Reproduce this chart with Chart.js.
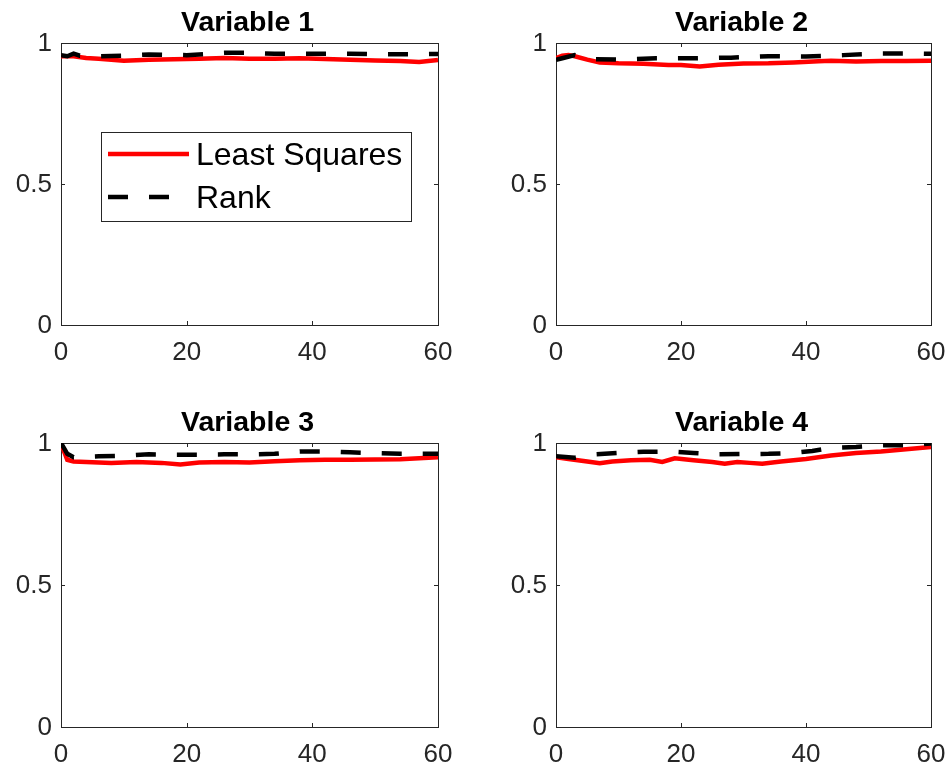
<!DOCTYPE html>
<html>
<head>
<meta charset="utf-8">
<script src="https://cdn.jsdelivr.net/npm/chart.js@4.4.1/dist/chart.umd.min.js"></script>
<style>
    html, body { margin: 0; padding: 0; background: #fff; }
    #wrap { position: relative; width: 950px; height: 774px; overflow: hidden; }
    canvas { position: absolute; }
</style>
</head>
<body>
<div id="wrap"></div>
<script>
// values
const titles = ['Variable 1', 'Variable 2', 'Variable 3', 'Variable 4'];
const seriesNames = ['Least Squares', 'Rank'];
const xTicks = [0, 20, 40, 60];
const yTicks = [0, 0.5, 1];

const lsX1 = [0, 2, 4, 6, 10, 14, 18, 22, 26, 30, 34, 38, 42, 46, 50, 54, 57, 60];
const lsY1 = [0.953, 0.953, 0.947, 0.944, 0.937, 0.941, 0.942, 0.944, 0.947, 0.944, 0.944, 0.946, 0.943, 0.941, 0.938, 0.936, 0.933, 0.94];
const rkX1 = [0, 1, 2, 3, 6, 10, 14, 20, 26, 30, 34, 40, 46, 52, 56, 60];
const rkY1 = [0.957, 0.953, 0.962, 0.955, 0.953, 0.955, 0.959, 0.957, 0.965, 0.965, 0.962, 0.962, 0.962, 0.96, 0.96, 0.961];

const lsX2 = [0, 1, 2, 3, 5, 7, 10, 14, 18, 20, 23, 26, 30, 34, 38, 42, 44, 48, 52, 56, 60];
const lsY2 = [0.946, 0.955, 0.957, 0.953, 0.941, 0.931, 0.928, 0.926, 0.922, 0.922, 0.917, 0.923, 0.927, 0.928, 0.931, 0.935, 0.937, 0.934, 0.936, 0.936, 0.937];
const rkX2 = [0, 1, 3, 6, 10, 16, 22, 28, 34, 40, 46, 52, 56, 60];
const rkY2 = [0.94, 0.946, 0.957, 0.943, 0.941, 0.946, 0.946, 0.948, 0.953, 0.952, 0.957, 0.963, 0.963, 0.962];

const lsX3 = [0, 1, 2, 4, 8, 12, 16, 19, 22, 26, 30, 34, 38, 42, 46, 50, 54, 57, 60];
const lsY3 = [0.998, 0.941, 0.935, 0.933, 0.93, 0.933, 0.93, 0.924, 0.931, 0.933, 0.931, 0.936, 0.939, 0.941, 0.941, 0.942, 0.943, 0.946, 0.95];
const rkX3 = [0, 1, 2, 6, 10, 14, 18, 22, 26, 30, 34, 38, 42, 46, 50, 54, 60];
const rkY3 = [1.0, 0.962, 0.95, 0.953, 0.955, 0.96, 0.959, 0.959, 0.96, 0.96, 0.962, 0.97, 0.97, 0.967, 0.964, 0.962, 0.962];

const lsX4 = [0, 2, 5, 7, 9, 12, 15, 17, 19, 22, 25, 27, 29, 31, 33, 36, 40, 44, 48, 52, 56, 60];
const lsY4 = [0.95, 0.944, 0.935, 0.929, 0.935, 0.939, 0.941, 0.933, 0.946, 0.939, 0.933, 0.927, 0.933, 0.93, 0.927, 0.935, 0.944, 0.956, 0.965, 0.97, 0.978, 0.986];
const rkX4 = [0, 3, 6, 10, 14, 18, 22, 26, 30, 34, 38, 41, 44, 48, 52, 56, 60];
const rkY4 = [0.953, 0.948, 0.96, 0.965, 0.969, 0.97, 0.965, 0.96, 0.961, 0.962, 0.965, 0.972, 0.983, 0.986, 0.992, 0.992, 0.998];

const FONT = '"Liberation Sans", Arial, Helvetica, sans-serif';
const AXIS_COLOR = '#262626';

// canvas cell and plot box, page coordinates
const panels = [
    {cell: [0, 0, 475, 395], area: [61, 43, 438, 325], ls: [lsX1, lsY1], rk: [rkX1, rkY1], legend: true},
    {cell: [475, 0, 950, 395], area: [556, 43, 931, 325], ls: [lsX2, lsY2], rk: [rkX2, rkY2]},
    {cell: [0, 395, 475, 774], area: [61, 443, 438, 727], ls: [lsX3, lsY3], rk: [rkX3, rkY3]},
    {cell: [475, 395, 950, 774], area: [556, 443, 931, 727], ls: [lsX4, lsY4], rk: [rkX4, rkY4]}
];

function zip(xs, ys) {
    return xs.map((x, i) => ({x, y: ys[i]}));
}

// box round the axes with small inward ticks, MATLAB style
const boxPlugin = {
    id: 'box',
    beforeDatasetsDraw(chart) {
        const {ctx, chartArea: a, scales} = chart;
        const tl = 4;
        ctx.save();
        ctx.strokeStyle = AXIS_COLOR;
        ctx.lineWidth = 1;
        ctx.strokeRect(a.left + 0.5, a.top + 0.5, a.right - a.left, a.bottom - a.top);
        ctx.beginPath();
        for (const v of xTicks) {
            const px = Math.round(scales.x.getPixelForValue(v)) + 0.5;
            ctx.moveTo(px, a.bottom);
            ctx.lineTo(px, a.bottom - tl);
            ctx.moveTo(px, a.top);
            ctx.lineTo(px, a.top + tl);
        }
        for (const v of yTicks) {
            const py = Math.round(scales.y.getPixelForValue(v)) + 0.5;
            ctx.moveTo(a.left, py);
            ctx.lineTo(a.left + tl, py);
            ctx.moveTo(a.right, py);
            ctx.lineTo(a.right - tl, py);
        }
        ctx.stroke();
        ctx.restore();
    }
};

const titlePlugin = {
    id: 'panelTitle',
    afterDraw(chart, args, opts) {
        const {ctx, chartArea: a} = chart;
        ctx.save();
        ctx.font = `bold 28.5px ${FONT}`;
        ctx.fillStyle = '#000';
        ctx.textAlign = 'center';
        ctx.textBaseline = 'alphabetic';
        ctx.fillText(opts.text, (a.left + a.right) / 2 - 2, a.top - 12);
        ctx.restore();
    }
};

const legendPlugin = {
    id: 'boxLegend',
    afterDraw(chart, args, opts) {
        if (!opts.show) {
            return;
        }
        const {ctx, chartArea: a} = chart;
        const x = a.left + 40, y = a.top + 89, w = 310, h = 89;
        ctx.save();
        ctx.fillStyle = '#fff';
        ctx.fillRect(x, y, w, h);
        ctx.strokeStyle = AXIS_COLOR;
        ctx.lineWidth = 1;
        ctx.strokeRect(x + 0.5, y + 0.5, w, h);

        const rows = [y + 22, y + 65];
        chart.data.datasets.forEach((ds, i) => {
            const ly = rows[i];
            ctx.beginPath();
            ctx.strokeStyle = ds.borderColor;
            ctx.lineWidth = ds.borderWidth;
            ctx.lineCap = 'butt';
            ctx.setLineDash(ds.borderDash || []);
            ctx.moveTo(x + 7, ly);
            ctx.lineTo(x + 88, ly);
            ctx.stroke();
            ctx.setLineDash([]);
            ctx.fillStyle = '#000';
            ctx.font = `32px ${FONT}`;
            ctx.textAlign = 'left';
            ctx.textBaseline = 'middle';
            ctx.fillText(ds.label, x + 95, ly + 2);
        });
        ctx.restore();
    }
};

const wrap = document.getElementById('wrap');

panels.forEach((p, idx) => {
    const [cl, ct, cr, cb] = p.cell;
    const [al, at, ar, ab] = p.area;
    const canvas = document.createElement('canvas');
    canvas.width = cr - cl;
    canvas.height = cb - ct;
    canvas.style.left = cl + 'px';
    canvas.style.top = ct + 'px';
    wrap.appendChild(canvas);

    new Chart(canvas, {
        type: 'line',
        data: {
            datasets: [
                {
                    label: seriesNames[0],
                    data: zip(p.ls[0], p.ls[1]),
                    borderColor: '#ff0000',
                    borderWidth: 4.5,
                    order: 1
                },
                {
                    label: seriesNames[1],
                    data: zip(p.rk[0], p.rk[1]),
                    borderColor: '#000000',
                    borderWidth: 4.5,
                    borderDash: [20, 21],
                    borderCapStyle: 'butt',
                    order: 0
                }
            ]
        },
        options: {
            responsive: false,
            devicePixelRatio: 1,
            animation: false,
            events: [],
            layout: {
                padding: {top: at - ct, right: cr - ar, left: 0, bottom: 0}
            },
            elements: {
                line: {tension: 0, fill: false},
                point: {radius: 0}
            },
            plugins: {
                legend: {display: false},
                tooltip: {enabled: false},
                title: {display: false},
                panelTitle: {text: titles[idx]},
                boxLegend: {show: !!p.legend}
            },
            scales: {
                x: {
                    type: 'linear',
                    min: 0,
                    max: 60,
                    afterBuildTicks: s => { s.ticks = xTicks.map(v => ({value: v})); },
                    afterFit: s => {
                        s.height = cb - ab;
                        s.paddingLeft = 0;
                        s.paddingRight = 0;
                    },
                    grid: {display: false, drawTicks: false},
                    border: {display: false},
                    ticks: {
                        color: AXIS_COLOR,
                        font: {family: FONT, size: 26},
                        padding: 12,
                        maxRotation: 0,
                        callback: v => String(v)
                    }
                },
                y: {
                    min: 0,
                    max: 1,
                    afterBuildTicks: s => { s.ticks = yTicks.map(v => ({value: v})); },
                    afterFit: s => {
                        s.width = al - cl;
                        s.paddingTop = 0;
                        s.paddingBottom = 0;
                    },
                    grid: {display: false, drawTicks: false},
                    border: {display: false},
                    ticks: {
                        color: AXIS_COLOR,
                        font: {family: FONT, size: 26},
                        padding: 9,
                        labelOffset: 1,
                        callback: v => String(v)
                    }
                }
            }
        },
        plugins: [boxPlugin, titlePlugin, legendPlugin]
    });
});
</script>
</body>
</html>
